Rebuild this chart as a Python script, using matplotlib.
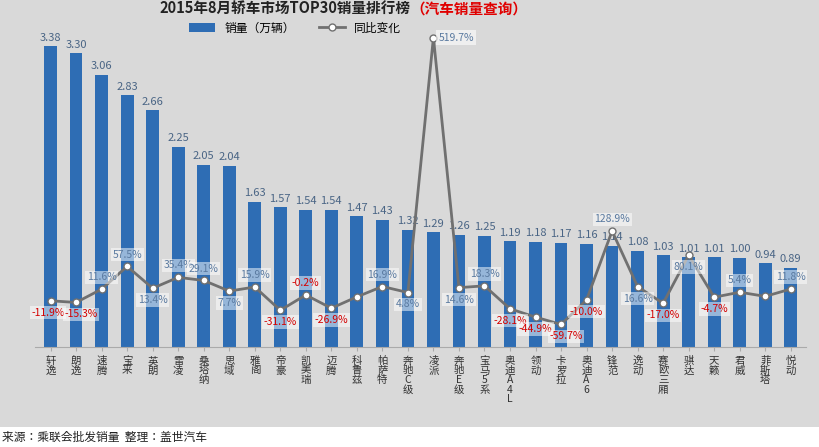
import matplotlib
matplotlib.use("Agg")
import matplotlib.pyplot as plt
import numpy as np

plt.rcParams['font.family'] = ['Noto Sans CJK JP', 'DejaVu Sans']

models = ["轩逸","朗逸","速腾","宝来","英朗","雷凌","桑塔纳","思域","雅阁","帝豪","凯美瑞","迈腾","科鲁兹","帕萨特","奔驰C级",
          "凌派","奔驰E级","宝马5系","奥迪A4L","领动","卡罗拉","奥迪A6","锋范","逸动","赛欧三厢","骐达","天籁","君威","菲斯塔","悦动"]
sales = [3.38,3.30,3.06,2.83,2.66,2.25,2.05,2.04,1.63,1.57,1.54,1.54,1.47,1.43,1.32,
         1.29,1.26,1.25,1.19,1.18,1.17,1.16,1.14,1.08,1.03,1.01,1.01,1.00,0.94,0.89]
yoy = [-11.9,-15.3,11.6,57.5,13.4,35.4,29.1,7.7,15.9,-31.1,-0.2,-26.9,-4.0,16.9,4.8,
       519.7,14.6,18.3,-28.1,-44.9,-59.7,-10.0,128.9,16.6,-17.0,80.1,-4.7,5.4,-3.0,11.8]
yoy_labeled = [True]*30
yoy_labeled[12] = False
yoy_labeled[28] = False

fig = plt.figure(figsize=(8.2,4.47), dpi=100, facecolor='white')
bg = fig.add_axes([0,0.045,1,0.955]); bg.set_facecolor('#d9d9d9'); bg.set_xticks([]); bg.set_yticks([])
for s in bg.spines.values(): s.set_visible(False)
ax = fig.add_axes([0.043,0.224,0.94,0.72])
ax.patch.set_alpha(0)
x = np.arange(len(models))
ax.bar(x, sales, width=0.5, color='#2e6db4', label='销量（万辆）')
for xi, v in zip(x, sales):
    ax.text(xi, v+0.04, f"{v:.2f}", ha='center', va='bottom', fontsize=8, color='#4a6585')
ax.set_ylim(0,3.62)
ax.set_xlim(-0.6, 29.6)
ax.set_yticks([])
for s in ['left','right','top']: ax.spines[s].set_visible(False)
ax.spines['bottom'].set_color('#aaaaaa')
ax.set_xticks(x)
ax.set_xticklabels(["\n".join(m) for m in models], fontsize=7.5, color='#333333', linespacing=0.95)
ax.tick_params(axis='x', length=3, color='#aaaaaa')

ax2 = ax.twinx()
ax2.set_ylim(-105,545)
ax2.set_yticks([])
for s in ax2.spines.values(): s.set_visible(False)
ax2.plot(x, yoy, color='#707070', lw=2, marker='o', ms=5, mfc='white', mec='#707070', label='同比变化')
up = {2,3,5,6,8,10,13,17,22,27,29}
for i,(xi,v) in enumerate(zip(x,yoy)):
    if not yoy_labeled[i]: continue
    col = '#d40000' if v < 0 else '#5a7aa0'
    if i == 15:
        ax2.text(xi+0.2, v, f"{v:.1f}%", ha='left', va='center', fontsize=7.5, color=col,
                 bbox=dict(fc='white', ec='none', alpha=0.6, pad=1.5))
        continue
    dy = 24 if i in up else -24
    xo = 0
    if i == 0: xo = -0.1
    if i == 1: xo = 0.2
    if i == 20: xo = 0.2
    ax2.text(xi+xo, v+dy, f"{v:.1f}%", ha='center', va='center', fontsize=7.5, color=col,
             bbox=dict(fc='white', ec='none', alpha=0.5, pad=1.2))

h1,l1 = ax.get_legend_handles_labels(); h2,l2 = ax2.get_legend_handles_labels()
fig.legend(h1+h2, l1+l2, loc='center', bbox_to_anchor=(0.36,(447-28)/447), ncol=2, frameon=False, fontsize=8.5,
           handlelength=2.2, borderpad=0.1)

fig.text(0.5, 0.998, "2015年8月轿车市场TOP30销量排行榜", ha='right', va='top', fontsize=10.5, fontweight='bold', color='#222222')
fig.text(0.5, 0.998, "（汽车销量查询）", ha='left', va='top', fontsize=10.5, fontweight='bold', color='#e00000')
fig.text(0.003, 0.022, "来源：乘联会批发销量  整理：盖世汽车", ha='left', va='center', fontsize=8.5, color='#222222')
fig.savefig("out.png", dpi=100, facecolor='white')
